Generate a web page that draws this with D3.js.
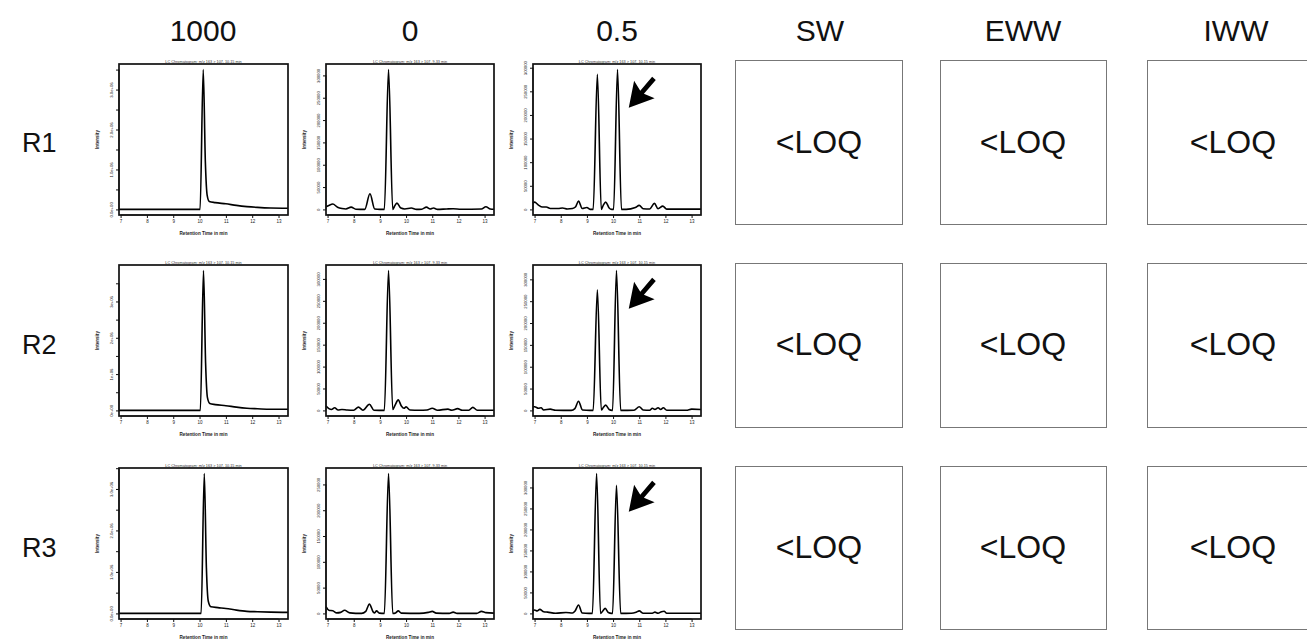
<!DOCTYPE html>
<html>
<head>
<meta charset="utf-8">
<script src="https://cdn.jsdelivr.net/npm/d3@7"></script>
<style>
  html, body { margin: 0; padding: 0; background: #fff; }
  svg { display: block; }
  text { font-family: "Liberation Sans", Arial, sans-serif; }
</style>
</head>
<body>
<svg id="chart" width="1307" height="640"></svg>
<script>
// ---- labels ----
const concentrations = ["1000", "0", "0.5"];
const matrices = ["SW", "EWW", "IWW"];
const replicates = ["R1", "R2", "R3"];
const loqText = "<LOQ";
const timeTicks = [7, 8, 9, 10, 11, 12, 13];
const xTitle = "Retention Time in min";
const yTitle = "Intensity";
const panelCaptions = [
  "LC Chromatogram: m/z 163 > 107, 10.15 min",
  "LC Chromatogram: m/z 163 > 107, 9.33 min",
  "LC Chromatogram: m/z 163 > 107, 10.15 min"
];

// ---- y tick values and labels per row for the 1000 column ----
const sciTickValues = [0, 5e5, 1e6, 1.5e6, 2e6, 2.5e6, 3e6, 3.5e6];
const sciLabelsR1 = ["0.0e+00", "1.0e+06", "2.0e+06", "3.0e+06"];
const sciLabelsR2 = ["0e+00", "1e+06", "2e+06", "3e+06"];
const sciLabelsR3 = ["0.0e+00", "1.0e+06", "2.0e+06", "3.0e+06"];
const linTickValues = [0, 50000, 100000, 150000, 200000, 250000, 300000];

// ---- chromatogram traces: [retention time (min), intensity] ----
const trace1000R1 = [[6.94,0],[8,0],[9,0],[9.6,0],[10.02,0],[10.14,3.5e6],[10.22,1.2e6],[10.29,0.35e6],[10.37,0.2e6],[10.6,0.17e6],[11.0,0.14e6],[11.4,0.1e6],[11.8,0.07e6],[12.2,0.05e6],[12.7,0.035e6],[13.36,0.03e6]];
const trace1000R2 = [[6.94,0],[8,0],[9,0],[9.6,0],[10.03,0],[10.15,3.85e6],[10.23,1.3e6],[10.30,0.35e6],[10.39,0.19e6],[10.6,0.16e6],[11.0,0.13e6],[11.4,0.09e6],[11.8,0.06e6],[12.2,0.045e6],[12.7,0.03e6],[13.36,0.03e6]];
const trace1000R3 = [[6.94,0],[8,0],[9,0],[9.6,0],[10.06,0],[10.18,3.37e6],[10.26,1.1e6],[10.33,0.3e6],[10.43,0.16e6],[10.7,0.14e6],[11.0,0.12e6],[11.4,0.08e6],[11.8,0.05e6],[12.2,0.04e6],[12.7,0.03e6],[13.36,0.025e6]];

const trace0R1 = [[6.94,6000],[7.05,9000],[7.2,12000],[7.38,5000],[7.55,2000],[7.7,1000],[7.9,5000],[8.08,500],[8.42,0],[8.62,35000],[8.8,1000],[9.0,0],[9.17,0],[9.33,313000],[9.49,0],[9.55,6000],[9.65,14000],[9.8,3000],[9.95,1000],[10.2,3000],[10.4,0],[10.6,500],[10.78,5000],[10.92,1000],[11.05,3000],[11.2,0],[11.55,1000],[11.8,1500],[12.1,500],[12.88,1000],[13.05,6000],[13.22,1000],[13.36,500]];
const trace0R2 = [[6.94,10000],[7.05,4000],[7.15,2000],[7.27,6000],[7.4,1000],[7.55,2000],[7.75,1000],[8.0,500],[8.18,7600],[8.35,500],[8.6,14000],[8.77,500],[9.17,0],[9.33,319000],[9.49,2000],[9.58,12000],[9.7,24000],[9.82,10000],[9.92,5000],[10.0,8000],[10.15,1000],[10.5,500],[10.8,1000],[11.0,5000],[11.2,500],[11.6,3000],[11.75,500],[11.97,4000],[12.15,500],[12.4,500],[12.55,7000],[12.72,500],[13.36,500]];
const trace0R3 = [[6.94,13000],[7.05,6000],[7.2,5000],[7.35,1000],[7.5,2000],[7.65,6000],[7.85,1000],[8.3,0],[8.46,4000],[8.6,18000],[8.74,3000],[8.8,1000],[8.87,5000],[8.98,500],[9.17,0],[9.33,271000],[9.49,0],[9.6,1000],[9.7,5000],[9.82,500],[10.5,0],[10.85,2000],[11.0,4000],[11.15,500],[11.65,0],[11.8,2500],[11.95,0],[12.7,0],[12.88,4000],[13.05,1500],[13.36,500]];

const trace05R1 = [[6.94,13000],[7.0,15500],[7.15,9000],[7.3,5000],[7.45,5000],[7.6,2000],[7.9,2000],[8.07,3000],[8.25,1000],[8.45,2000],[8.56,5000],[8.68,17600],[8.82,2000],[9.0,4000],[9.12,0],[9.24,0],[9.40,286000],[9.55,0],[9.62,8000],[9.72,15500],[9.85,3000],[9.95,0],[10.02,0],[10.17,296000],[10.32,0],[10.5,0],[10.85,4000],[11.0,8500],[11.15,1500],[11.4,1000],[11.58,12700],[11.72,1500],[11.9,7000],[12.05,500],[13.36,500]];
const trace05R2 = [[6.94,8000],[7.0,8400],[7.15,5000],[7.25,6000],[7.35,1000],[7.6,3000],[7.8,500],[8.4,0],[8.54,4000],[8.68,21000],[8.83,1000],[9.12,0],[9.24,0],[9.40,276000],[9.55,1000],[9.62,6000],[9.72,12000],[9.85,2000],[9.96,0],[9.98,0],[10.13,320000],[10.29,0],[10.8,500],[11.0,8400],[11.15,1000],[11.4,500],[11.5,5000],[11.6,2000],[11.72,6000],[11.82,2000],[11.92,6000],[12.05,500],[12.8,500],[13.0,3000],[13.36,2000]];
const trace05R3 = [[6.94,6000],[7.0,8000],[7.1,6000],[7.2,9500],[7.35,4000],[7.5,3000],[7.8,500],[8.2,2000],[8.45,1000],[8.54,5000],[8.68,20000],[8.82,1000],[9.08,0],[9.21,0],[9.37,333000],[9.52,0],[9.6,5000],[9.7,12000],[9.82,2000],[9.94,0],[9.98,0],[10.13,305000],[10.29,0],[10.7,500],[10.88,3000],[11.0,6000],[11.15,500],[11.5,500],[11.6,3000],[11.72,500],[11.85,4000],[11.95,5000],[12.05,500],[13.36,500]];

// ---- layout ----
const panelX = [[119, 288], [326, 494], [533, 701]];
const panelTop = [64, 265, 468];
const panelH = 151;
const boxX = [[735, 902], [940, 1106], [1147, 1313]];
const boxY = [[60, 224], [263, 427], [466, 629]];
const headerX = [203, 410, 617, 820, 1023, 1236];
const loqX = [819, 1023, 1233];
const rowLabelY = [152, 354, 557];

const svg = d3.select("#chart");

// column headers
const headers = concentrations.concat(matrices);
svg.selectAll("text.header").data(headers).join("text")
  .attr("class", "header")
  .attr("x", (d, i) => headerX[i])
  .attr("y", 41)
  .attr("text-anchor", "middle")
  .attr("font-size", 30)
  .attr("fill", "#111")
  .text(d => d);

// row labels
svg.selectAll("text.rowlab").data(replicates).join("text")
  .attr("class", "rowlab")
  .attr("x", 22)
  .attr("y", (d, i) => rowLabelY[i])
  .attr("font-size", 27)
  .attr("fill", "#111")
  .text(d => d);

const traces = [
  [trace1000R1, trace0R1, trace05R1],
  [trace1000R2, trace0R2, trace05R2],
  [trace1000R3, trace0R3, trace05R3]
];
const sciLabels = [sciLabelsR1, sciLabelsR2, sciLabelsR3];

function drawPanel(r, c) {
  const data = traces[r][c];
  const [x0, x1] = panelX[c];
  const top = panelTop[r], bottom = top + panelH;
  const ymax = d3.max(data, d => d[1]);
  const pad = ymax * 0.04;

  const x = d3.scaleLinear().domain([6.94, 13.36]).range([x0, x1]);
  const y = d3.scaleLinear().domain([-pad, ymax + pad]).range([bottom, top]);

  const g = svg.append("g");

  // caption above the plot
  g.append("text")
    .attr("x", (x0 + x1) / 2)
    .attr("y", top - 1.5)
    .attr("text-anchor", "middle")
    .attr("font-size", 3.8)
    .attr("fill", "#333")
    .text(panelCaptions[c]);

  // trace
  const line = d3.line()
    .x(d => x(d[0]))
    .y(d => y(d[1]))
    .curve(d3.curveMonotoneX);
  g.append("path")
    .datum(data)
    .attr("d", line)
    .attr("fill", "none")
    .attr("stroke", "#000")
    .attr("stroke-width", 1.6)
    .attr("stroke-linejoin", "round");

  // frame
  g.append("rect")
    .attr("x", x0).attr("y", top)
    .attr("width", x1 - x0).attr("height", panelH)
    .attr("fill", "none")
    .attr("stroke", "#111")
    .attr("stroke-width", 1.7);

  // x axis
  const xa = g.append("g")
    .attr("transform", `translate(0,${bottom})`)
    .call(d3.axisBottom(x).tickValues(timeTicks).tickSize(3).tickPadding(1.5).tickFormat(d3.format("d")));
  xa.select(".domain").attr("stroke", "#111").attr("stroke-width", 1)
    .attr("d", `M${x(7)},0H${x(13)}`);
  xa.selectAll(".tick line").attr("stroke", "#111").attr("stroke-width", 1);
  xa.selectAll(".tick text").attr("font-size", 4.5).attr("fill", "#222")
    .attr("font-family", "Liberation Sans, Arial, sans-serif");

  g.append("text")
    .attr("x", (x0 + x1) / 2)
    .attr("y", bottom + 20)
    .attr("text-anchor", "middle")
    .attr("font-size", 4.6)
    .attr("font-weight", "bold")
    .attr("fill", "#222")
    .text(xTitle);

  // y axis
  let tv, fmt;
  if (c === 0) {
    tv = sciTickValues.filter(v => v <= ymax + pad);
    const labs = sciLabels[r];
    fmt = v => (v % 1e6 === 0 ? labs[v / 1e6] : "");
  } else {
    tv = linTickValues.filter(v => v <= ymax + pad);
    fmt = d3.format("d");
  }
  const ya = g.append("g")
    .attr("transform", `translate(${x0},0)`)
    .call(d3.axisLeft(y).tickValues(tv).tickSize(3).tickFormat(fmt));
  ya.select(".domain").attr("stroke", "#111").attr("stroke-width", 1)
    .attr("d", `M0,${y(tv[0])}V${y(tv[tv.length - 1])}`);
  ya.selectAll(".tick line").attr("stroke", "#111").attr("stroke-width", 1);
  ya.selectAll(".tick text")
    .attr("font-size", 4.2).attr("fill", "#222")
    .attr("font-family", "Liberation Sans, Arial, sans-serif")
    .attr("text-anchor", "middle")
    .attr("dy", 0)
    .attr("x", 0)
    .attr("transform", "translate(-6,0) rotate(-90)");

  g.append("text")
    .attr("transform", `translate(${x0 - 20},${(top + bottom) / 2}) rotate(-90)`)
    .attr("text-anchor", "middle")
    .attr("font-size", 4.6)
    .attr("font-weight", "bold")
    .attr("fill", "#222")
    .text(yTitle);

  // arrow marking the analyte peak in the spiked sample
  if (c === 2) {
    const w = x1 - x0;
    const tip = [x0 + 0.57 * w, top + 0.29 * panelH];
    const tail = [x0 + 0.72 * w, top + 0.095 * panelH];
    const dx = tail[0] - tip[0], dy = tail[1] - tip[1];
    const len = Math.hypot(dx, dy);
    const ux = dx / len, uy = dy / len;
    const px = -uy, py = ux;
    const headLen = 24, headHalf = 13.5, notch = 3.5, shaftHalf = 2.4;
    const base = [tip[0] + ux * headLen, tip[1] + uy * headLen];
    const inner = [tip[0] + ux * (headLen - notch), tip[1] + uy * (headLen - notch)];
    const pts = [
      tip,
      [base[0] + px * headHalf, base[1] + py * headHalf],
      [inner[0] + px * shaftHalf, inner[1] + py * shaftHalf],
      [tail[0] + px * shaftHalf, tail[1] + py * shaftHalf],
      [tail[0] - px * shaftHalf, tail[1] - py * shaftHalf],
      [inner[0] - px * shaftHalf, inner[1] - py * shaftHalf],
      [base[0] - px * headHalf, base[1] - py * headHalf]
    ];
    g.append("path")
      .attr("d", "M" + pts.map(p => p.join(",")).join("L") + "Z")
      .attr("fill", "#000");
  }
}

for (let r = 0; r < 3; r++) {
  for (let c = 0; c < 3; c++) drawPanel(r, c);
}

// below-LOQ boxes for the environmental matrices
for (let r = 0; r < 3; r++) {
  matrices.forEach((m, c) => {
    const [bx0, bx1] = boxX[c];
    const [by0, by1] = boxY[r];
    svg.append("rect")
      .attr("x", bx0 + 0.5).attr("y", by0 + 0.5)
      .attr("width", bx1 - bx0).attr("height", by1 - by0)
      .attr("fill", "none")
      .attr("stroke", "#777")
      .attr("stroke-width", 1);
    svg.append("text")
      .attr("x", loqX[c])
      .attr("y", rowLabelY[r] + 1)
      .attr("text-anchor", "middle")
      .attr("font-size", 32)
      .attr("fill", "#111")
      .text(loqText);
  });
}
</script>
</body>
</html>
